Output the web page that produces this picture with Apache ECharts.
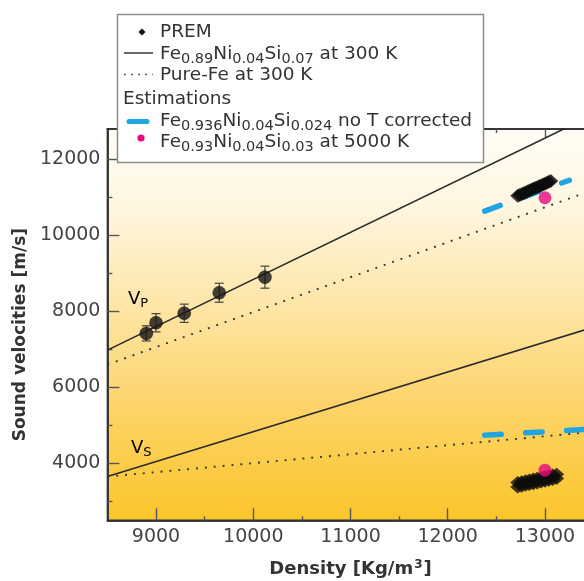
<!DOCTYPE html>
<html>
<head>
<meta charset="utf-8">
<script src="https://cdn.jsdelivr.net/npm/echarts@6/dist/echarts.min.js"></script>
<style>
  html, body { margin: 0; padding: 0; background: #ffffff; }
  #chart { width: 584px; height: 581px; }
</style>
</head>
<body>
<div id="chart"></div>
<script>
// Measured compressional velocities (with uncertainties)
const expDensity = [8900, 9000, 9290, 9650, 10120];
const expVp = [7420, 7700, 7950, 8490, 8900];
const expVpErr = [200, 240, 240, 250, 290];

// PREM inner-core values
const premVpDensity = [12720, 12740, 12760, 12780, 12800, 12820, 12840, 12860, 12880,
                       12900, 12920, 12940, 12960, 12980, 13000, 13020, 13040, 13060];
const premVp = [11040, 11065, 11085, 11110, 11130, 11155, 11180, 11200, 11225,
                11245, 11270, 11295, 11315, 11340, 11360, 11385, 11410, 11430];
const premVsDensity = [12720, 12760, 12800, 12840, 12880, 12920, 12960, 13000, 13040, 13080, 13120,
                       12720, 12760, 12800, 12840, 12880, 12920, 12960, 13000, 13040, 13080, 13120];
const premVs = [3495, 3515, 3540, 3560, 3585, 3605, 3630, 3650, 3675, 3695, 3715,
                3375, 3395, 3420, 3440, 3465, 3485, 3510, 3530, 3555, 3575, 3600];

// Fe0.89Ni0.04Si0.07 and pure Fe at 300 K (end points of the linear trends)
const trendDensity = [8500, 13500];
const alloyVp = [6980, 13180];
const pureFeVp = [6600, 11200];
const alloyVs = [3655, 7585];
const pureFeVs = [3650, 4830];

// Fe0.936Ni0.04Si0.024, no temperature correction
const estVpDensity = [12380, 13250];
const estVp = [10640, 11450];
const estVsDensity = [12380, 13500];
const estVs = [4740, 4905];

// Fe0.93Ni0.04Si0.03 at 5000 K
const hotDensity = [13000];
const hotVp = [10990];
const hotVs = [3820];

// Axis ticks
const xTicks = [9000, 10000, 11000, 12000, 13000];
const xMinorTicks = [9500, 10500, 11500, 12500];
const yTicks = [4000, 6000, 8000, 10000, 12000];
const yMinorTicks = [3000, 5000, 7000, 9000, 11000];

const FONT = 'DejaVu Sans';
const INK = '#2a2a2a';
const BLUE = '#1fa6e2';
const MAGENTA = '#e6097f';

const pairs = (xs, ys) => xs.map((x, i) => [x, ys[i]]);

const chart = echarts.init(document.getElementById('chart'), null, { renderer: 'canvas' });

const axisLine = { show: true, lineStyle: { color: '#333', width: 1.5 } };
const xRange = { min: 8500, max: 13500 };
const yRange = { min: 2500, max: 12800 };
const tickLabel = (ticks) => ({
  show: true, customValues: ticks, margin: 7,
  fontFamily: FONT, fontSize: 19, color: '#444',
  formatter: (v) => String(v)
});

function xAxis(position, ticks, len, labels) {
  return Object.assign({
    type: 'value', gridIndex: 0, position: position,
    axisLine: axisLine,
    axisTick: { show: true, inside: true, length: len, customValues: ticks, lineStyle: { color: '#555', width: 1.4 } },
    axisLabel: labels ? tickLabel(ticks) : { show: false },
    splitLine: { show: false }
  }, xRange);
}
function yAxis(ticks, len, labels) {
  return Object.assign({
    type: 'value', gridIndex: 0, position: 'left',
    axisLine: axisLine,
    axisTick: { show: true, inside: true, length: len, customValues: ticks, lineStyle: { color: '#555', width: 1.4 } },
    axisLabel: labels ? tickLabel(ticks) : { show: false },
    splitLine: { show: false }
  }, yRange);
}

const xMain = xAxis('bottom', xTicks, 12, true);
xMain.name = '{b|Density [Kg/m}{p|3}{b|]}';
xMain.nameLocation = 'middle';
xMain.nameGap = 39;
xMain.nameTextStyle = {
  fontFamily: FONT, fontSize: 18, fontWeight: 'bold', color: '#333',
  rich: {
    b: { fontFamily: FONT, fontSize: 18, fontWeight: 'bold', color: '#333' },
    p: { fontFamily: FONT, fontSize: 12, fontWeight: 'bold', color: '#333', padding: [0, 1, 9, 1] }
  }
};

const yMain = yAxis(yTicks, 12, true);
yMain.name = 'Sound velocities [m/s]';
yMain.nameLocation = 'middle';
yMain.nameGap = 65;
yMain.nameTextStyle = { fontFamily: FONT, fontSize: 17, fontWeight: 'bold', color: '#333', padding: [0, 20, 0, 0] };

const trend = (name, xs, ys, type) => ({
  type: 'line', name: name, xAxisIndex: 0, yAxisIndex: 0,
  data: pairs(xs, ys), symbol: 'none', clip: true, z: 2,
  lineStyle: type === 'solid'
    ? { color: INK, width: 1.6, type: 'solid' }
    : { color: '#333', width: 1.9, type: [1.9, 7], cap: 'butt' }
});

const estimate = (xs, ys) => ({
  type: 'line', name: 'Fe0.936Ni0.04Si0.024 no T corrected', xAxisIndex: 0, yAxisIndex: 0,
  data: pairs(xs, ys), symbol: 'none', clip: true, z: 3,
  lineStyle: { color: BLUE, width: 5.5, type: [16.5, 24.5], cap: 'round' }
});

const sub = (t) => '{s|' + t + '}';
const main = (t) => '{m|' + t + '}';
const richStyle = {
  m: { fontFamily: FONT, fontSize: 18.5, color: '#333' },
  s: { fontFamily: FONT, fontSize: 14.5, color: '#333', padding: [10, 0, 0, 0] }
};
const curveRich = {
  m: { fontFamily: FONT, fontSize: 18, color: '#333' },
  s: { fontFamily: FONT, fontSize: 13, color: '#333', padding: [10, 0, 0, 0] }
};

function legendText(x, y, text) {
  return { type: 'text', x: x, y: y, z: 101,
    style: { text: text, rich: richStyle, verticalAlign: 'middle', align: 'left', fontFamily: FONT, fontSize: 18.5, fill: '#333' } };
}

const option = {
  animation: false,
  backgroundColor: '#ffffff',
  grid: {
    left: 107.4, right: -9.6, top: 129, bottom: 60.7,
    outerBoundsMode: 'none',
    containLabel: false,
    show: true, borderColor: '#333', borderWidth: 1.5,
    backgroundColor: new echarts.graphic.LinearGradient(0, 0, 0, 1, [
      { offset: 0, color: '#fffdf6' },
      { offset: 0.2, color: '#fff6e0' },
      { offset: 0.45, color: '#fee6a8' },
      { offset: 0.7, color: '#fdd46a' },
      { offset: 1, color: '#fbc52a' }
    ])
  },
  xAxis: [
    xMain,
    xAxis('bottom', xMinorTicks, 4, false),
    xAxis('top', xTicks, 8, false),
    xAxis('top', xMinorTicks, 4, false)
  ],
  yAxis: [
    yMain,
    yAxis(yMinorTicks, 5, false)
  ],
  series: [
    trend('Fe0.89Ni0.04Si0.07 at 300 K', trendDensity, alloyVp, 'solid'),
    trend('Pure-Fe at 300 K', trendDensity, pureFeVp, 'dotted'),
    trend('Fe0.89Ni0.04Si0.07 at 300 K', trendDensity, alloyVs, 'solid'),
    trend('Pure-Fe at 300 K', trendDensity, pureFeVs, 'dotted'),
    estimate(estVpDensity, estVp),
    estimate(estVsDensity, estVs),
    {
      type: 'scatter', name: 'PREM', xAxisIndex: 0, yAxisIndex: 0, z: 4,
      data: pairs(premVpDensity, premVp), symbol: 'diamond', symbolSize: [15, 14],
      itemStyle: { color: '#0d0d0d' }
    },
    {
      type: 'scatter', name: 'PREM', xAxisIndex: 0, yAxisIndex: 0, z: 4,
      data: pairs(premVsDensity, premVs), symbol: 'diamond', symbolSize: [15, 13],
      itemStyle: { color: '#0d0d0d' }
    },
    {
      // error bars of the measured Vp
      type: 'custom', name: 'Vp errors', xAxisIndex: 0, yAxisIndex: 0, z: 5,
      encode: { x: 0, y: [1, 2] },
      data: expDensity.map((d, i) => [d, expVp[i] - expVpErr[i], expVp[i] + expVpErr[i]]),
      renderItem: function (params, api) {
        const x = api.value(0);
        const top = api.coord([x, api.value(2)]);
        const bot = api.coord([x, api.value(1)]);
        const hw = 4.5;
        const st = { stroke: '#444', lineWidth: 1.2 };
        return {
          type: 'group', children: [
            { type: 'line', shape: { x1: top[0], y1: top[1], x2: bot[0], y2: bot[1] }, style: st },
            { type: 'line', shape: { x1: top[0] - hw, y1: top[1], x2: top[0] + hw, y2: top[1] }, style: st },
            { type: 'line', shape: { x1: bot[0] - hw, y1: bot[1], x2: bot[0] + hw, y2: bot[1] }, style: st }
          ]
        };
      }
    },
    {
      type: 'scatter', name: 'Measured Vp', xAxisIndex: 0, yAxisIndex: 0, z: 6,
      data: pairs(expDensity, expVp), symbol: 'circle', symbolSize: 13,
      itemStyle: { color: '#141414', borderColor: '#000', borderWidth: 0.5 }
    },
    {
      type: 'scatter', name: 'Fe0.93Ni0.04Si0.03 at 5000 K', xAxisIndex: 0, yAxisIndex: 0, z: 7,
      data: pairs(hotDensity, hotVp).concat(pairs(hotDensity, hotVs)),
      symbol: 'circle', symbolSize: 13, itemStyle: { color: MAGENTA }
    }
  ],
  graphic: [
    // curve labels
    { type: 'text', x: 128, y: 299, z: 50,
      style: { text: '{m|V}{s|P}', rich: curveRich, verticalAlign: 'middle', align: 'left' } },
    { type: 'text', x: 131, y: 448, z: 50,
      style: { text: '{m|V}{s|S}', rich: curveRich, verticalAlign: 'middle', align: 'left' } },
    // legend box
    { type: 'rect', z: 100, shape: { x: 117.5, y: 14.5, width: 366, height: 148 },
      style: { fill: '#ffffff', stroke: '#8c8c8c', lineWidth: 1.5 } },
    { type: 'polygon', z: 101, shape: { points: [[142, 28.5], [145.5, 32], [142, 35.5], [138.5, 32]] },
      style: { fill: '#111' } },
    legendText(160, 32, main('PREM')),
    { type: 'line', z: 101, shape: { x1: 124, y1: 53, x2: 153, y2: 53 }, style: { stroke: INK, lineWidth: 1.4 } },
    legendText(160, 54, main('Fe') + sub('0.89') + main('Ni') + sub('0.04') + main('Si') + sub('0.07') + main(' at 300 K')),
    { type: 'line', z: 101, shape: { x1: 124, y1: 74.5, x2: 153, y2: 74.5 },
      style: { stroke: '#333', lineWidth: 1.6, lineDash: [1.6, 5.5] } },
    legendText(160, 75, main('Pure-Fe at 300 K')),
    legendText(123, 99, main('Estimations')),
    { type: 'line', z: 101, shape: { x1: 129, y1: 121.5, x2: 147, y2: 121.5 },
      style: { stroke: BLUE, lineWidth: 5, lineCap: 'round' } },
    legendText(160, 121, main('Fe') + sub('0.936') + main('Ni') + sub('0.04') + main('Si') + sub('0.024') + main(' no T corrected')),
    { type: 'circle', z: 101, shape: { cx: 141, cy: 138, r: 3.6 }, style: { fill: MAGENTA } },
    legendText(160, 142, main('Fe') + sub('0.93') + main('Ni') + sub('0.04') + main('Si') + sub('0.03') + main(' at 5000 K'))
  ]
};

chart.setOption(option);
</script>
</body>
</html>
